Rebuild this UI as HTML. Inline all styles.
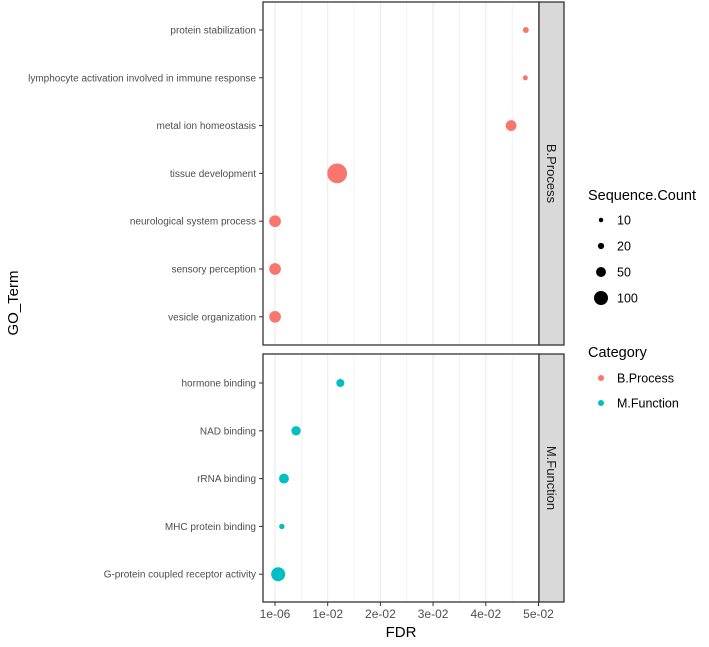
<!DOCTYPE html><html><head><meta charset="utf-8"><style>body{margin:0;background:#fff}svg{font-family:"Liberation Sans",Arial,sans-serif}</style></head><body>
<svg id="c" width="709" height="642"></svg>
<script>
const bpTerms=["protein stabilization","lymphocyte activation involved in immune response","metal ion homeostasis","tissue development","neurological system process","sensory perception","vesicle organization"];
const bpFDR=[0.0476,0.0475,0.0448,0.0118,0.00001,0.00001,0.00001];
const bpCount=[18,13,60,200,70,70,70];
const mfTerms=["hormone binding","NAD binding","rRNA binding","MHC protein binding","G-protein coupled receptor activity"];
const mfFDR=[0.0124,0.004,0.0017,0.0013,0.0006];
const mfCount=[33,45,50,15,100];
const xTicks=[0.000001,0.01,0.02,0.03,0.04,0.05];
const xTickLabels=["1e-06","1e-02","2e-02","3e-02","4e-02","5e-02"];
const legCounts=[10,20,50,100];
const NS="http://www.w3.org/2000/svg",svg=document.getElementById('c');
function el(t,a,txt){const e=document.createElementNS(NS,t);for(const k in a)e.setAttribute(k,a[k]);if(txt!=null)e.textContent=txt;svg.appendChild(e);return e;}
const X=v=>275+v*5270, R=c=>0.7*Math.sqrt(c);
const L=263,Rt=539;
function panel(top,bot,terms,fdr,cnt,color,strip,y0,name){
  let bg=el('rect',{x:L,y:top,width:Rt-L,height:bot-top,fill:'#fff'});
  
  for(let i=0;i<11;i++){const v=i*0.005;const g=el('line',{x1:X(v),x2:X(v),y1:top,y2:bot,stroke:'#ebebeb','stroke-width':i%2?0.6:1.1});
    }
  terms.forEach((t,i)=>{const y=y0+i*47.8;
    const tk=el('line',{x1:L-4,x2:L,y1:y,y2:y,stroke:'#333'});
    const lb=el('text',{x:L-7,y:y+3.5,'text-anchor':'end','font-size':10,fill:'#4d4d4d'},t);
    const c=el('circle',{cx:X(fdr[i]),cy:y,r:R(cnt[i]),fill:color});});
  const b=el('rect',{x:L,y:top,width:Rt-L,height:bot-top,fill:'none',stroke:'#333','stroke-width':1.3});
  const s=el('rect',{x:Rt,y:top,width:25,height:bot-top,fill:'#d9d9d9',stroke:'#333','stroke-width':1.3});
  const cy=(top+bot)/2;const st=el('text',{x:Rt+12.5,y:cy,'text-anchor':'middle','font-size':13,fill:'#1a1a1a',transform:`rotate(90 ${Rt+12.5} ${cy}) translate(0 4.5)`},strip);
  
}
panel(2,345,bpTerms,bpFDR,bpCount,'#f8766d','B.Process',30,'bprocess');
panel(354,602,mfTerms,mfFDR,mfCount,'#00bfc4','M.Function',383,'mfunction');
xTicks.forEach((v,i)=>{const t=el('line',{x1:X(v),x2:X(v),y1:602,y2:606,stroke:'#333'});
  const l=el('text',{x:X(v),y:618,'text-anchor':'middle','font-size':12,fill:'#4d4d4d'},xTickLabels[i]);});
let t=el('text',{x:401,y:637,'text-anchor':'middle','font-size':15,fill:'#000'},'FDR');
t=el('text',{x:18,y:303,'text-anchor':'middle','font-size':15,fill:'#000',transform:'rotate(-90 18 303)'},'GO_Term');
t=el('text',{x:588,y:200,'font-size':14.5,fill:'#000'},'Sequence.Count');
legCounts.forEach((c,i)=>{const y=220+i*26;const d=el('circle',{cx:601,cy:y,r:R(c),fill:'#000'});
  const l=el('text',{x:617,y:y+4.5,'font-size':12.5,fill:'#000'},c);});
t=el('text',{x:588,y:357,'font-size':14.5,fill:'#000'},'Category');
[['B.Process','#f8766d'],['M.Function','#00bfc4']].forEach((c,i)=>{const y=378+i*25;const d=el('circle',{cx:601,cy:y,r:3,fill:c[1]});
  const l=el('text',{x:617,y:y+4.5,'font-size':12.5,fill:'#000'},c[0]);});
</script></body></html>
